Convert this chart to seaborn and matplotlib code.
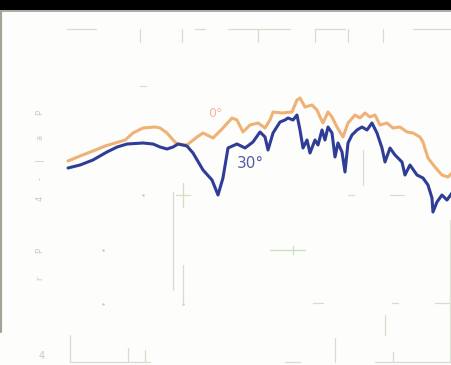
import matplotlib
matplotlib.use("Agg")
import matplotlib.pyplot as plt
import seaborn as sns
import pandas as pd

# On-axis (0°) response, frequency in Hz and level in dB
freq_0 = [100, 118, 141, 167, 220, 245, 281, 332, 356, 392, 426, 450, 516, 593, 644,
          739, 848, 961, 1029, 1118, 1231, 1375, 1515, 1623, 1692, 1915, 2198, 2355,
          2455, 2630, 2897, 3104, 3236, 3372, 3613, 3818, 4090, 4444, 4762, 5244,
          5617, 6020, 6449, 6910, 7402, 8155, 8858, 9754, 10745, 11670, 12850, 13400,
          14360, 15810, 17410, 18920, 20000]
level_0 = [1.8, 2.8, 3.8, 4.8, 6.0, 7.4, 8.4, 8.6, 8.4, 7.4, 6.0, 5.2, 5.0, 6.6, 7.4,
           6.4, 8.4, 10.4, 10.0, 7.6, 9.0, 9.4, 8.4, 10.0, 11.6, 11.4, 11.6, 14.0,
           14.4, 12.6, 13.0, 12.0, 10.6, 9.4, 11.6, 10.6, 8.6, 6.6, 9.4, 11.0,
           10.4, 11.4, 10.6, 11.0, 9.0, 9.4, 8.4, 8.6, 7.6, 7.4, 6.6, 5.6,
           2.4, 0.6, -1.0, -1.4, -0.6]

# 30° off-axis response
freq_30 = [100, 118, 141, 171, 197, 226, 281, 323, 356, 392, 426, 456, 516, 561, 644,
           729, 792, 848, 909, 1029, 1150, 1283, 1414, 1515, 1579, 1692, 1863, 1996,
           2081, 2229, 2355, 2455, 2559, 2704, 2818, 3020, 3148, 3326, 3466, 3613,
           3818, 3980, 4147, 4383, 4568, 4762, 5030, 5391, 5776, 6188, 6630, 7103,
           7611, 7934, 8502, 9105, 10030, 10450, 11200, 12336, 13400, 14360, 15170,
           15380, 16250, 17410, 18660, 20000]
level_30 = [0.4, 1.0, 2.0, 3.6, 4.6, 5.2, 5.4, 5.2, 4.6, 4.2, 4.6, 5.2, 4.8, 3.4, 0.0,
            -2.0, -5.0, -1.6, 4.4, 5.2, 4.4, 5.6, 7.6, 6.6, 4.0, 7.4, 9.6, 10.0,
            10.4, 10.0, 11.0, 8.0, 4.4, 6.0, 3.4, 6.0, 5.0, 8.0, 6.0, 8.6,
            7.4, 2.6, 5.4, 3.6, -0.4, 5.4, 7.0, 8.0, 8.6, 8.0, 9.4, 7.4,
            4.4, 1.6, 4.4, 3.0, 1.6, -1.0, 1.0, -1.0, -1.6, -3.0, -5.6,
            -8.4, -6.4, -5.0, -6.0, -4.6]

angles = ["0°", "30°"]
colors = {"0°": "#efb176", "30°": "#2f3d96"}

df = pd.concat([
    pd.DataFrame({"freq": freq_0, "level": level_0, "angle": angles[0]}),
    pd.DataFrame({"freq": freq_30, "level": level_30, "angle": angles[1]}),
])

sns.set_theme(style="white")
fig = plt.figure(figsize=(4.52, 3.65), dpi=100)
fig.patch.set_facecolor("#fdfdfb")

# Overlay in pixel units for the faint chart furniture
deco = fig.add_axes([0, 0, 1, 1])
deco.set_xlim(0, 452)
deco.set_ylim(365, 0)
deco.axis("off")
deco.set_facecolor("none")

faint = "#d9dbcc"
deco.axhspan(0, 9.5, color="black", lw=0)
deco.plot([0, 452], [11, 11], color="#9c9c98", lw=1.2)
deco.plot([1, 1], [12, 332], color="#a3a496", lw=1.6)

# top scale fragments
for x0, x1 in [(67, 96), (195, 205), (228, 290), (315, 345), (413, 452)]:
    deco.plot([x0, x1], [29, 29], color=faint, lw=0.9)
for x in [140, 182, 258, 315, 348, 383]:
    deco.plot([x, x], [29, 42], color=faint, lw=0.9)
deco.plot([140, 146], [86, 86], color=faint, lw=0.9)

# inner grid fragments
deco.plot([173, 173], [192, 290], color=faint, lw=0.9)
deco.plot([183, 183], [183, 207], color="#d6dcbc", lw=0.9)
deco.plot([176, 190], [195, 195], color="#d6dcbc", lw=0.9)
deco.plot([183, 183], [265, 305], color=faint, lw=0.9)
deco.plot([363, 363], [150, 185], color=faint, lw=0.9)
deco.plot([270, 305], [250, 250], color="#c9e0bd", lw=0.9)
deco.plot([293, 293], [246, 254], color="#c9e0bd", lw=0.9)
for x0, x1 in [(348, 354), (390, 404), (313, 323), (392, 398), (435, 452)]:
    y = 195 if x0 in (348, 390) else 303
    deco.plot([x0, x1], [y, y], color=faint, lw=0.9)
deco.scatter([103, 103, 183, 143], [250, 304, 304, 195], s=3, color="#c8c8c0", lw=0)
deco.plot([385, 385], [315, 335], color=faint, lw=0.9)
deco.plot([450, 450], [220, 362], color="#dde2d8", lw=0.9)

# bottom scale fragments
deco.plot([70, 70], [335, 362], color=faint, lw=0.9)
deco.plot([70, 150], [362, 362], color=faint, lw=0.9)
deco.plot([128, 128], [348, 362], color=faint, lw=0.9)
deco.plot([145, 145], [350, 362], color=faint, lw=0.9)
deco.plot([285, 300], [362, 362], color="#cfe2d0", lw=0.9)
deco.plot([335, 335], [338, 362], color=faint, lw=0.9)
deco.plot([375, 452], [362, 362], color=faint, lw=0.9)
deco.plot([393, 393], [352, 362], color=faint, lw=0.9)

# worn axis lettering along the left edge
for ch, y in [("P", 112), ("a", 137), ("|", 160), ("-", 178), ("4", 198), ("P", 250), ("r", 278)]:
    deco.text(40, y, ch, rotation=90, fontsize=6, color="#c9cab4", ha="center", va="center")
deco.text(42, 356, "4", fontsize=7, color="#c9cab4", ha="center", va="center")

# Response curves
ax = fig.add_axes([0, 0, 1, 1])
ax.set_facecolor("none")
sns.lineplot(data=df, x="freq", y="level", hue="angle", palette=colors,
             hue_order=angles, lw=2.2, ax=ax, legend=False, sort=False)
for line in ax.lines:
    line.set_solid_joinstyle("round")
    line.set_solid_capstyle("round")
ax.set_xscale("log")
ax.set_xlim(39.1, 20000)
ax.set_ylim(-39, 34)
ax.axis("off")

ax.text(760, 11.4, "0°", color="#f2b9a2", fontsize=9, ha="center", va="center")
ax.text(1231, 1.4, "30°", color="#5a5aa6", fontsize=11, ha="center", va="center")

fig.savefig("out.png", dpi=100)
